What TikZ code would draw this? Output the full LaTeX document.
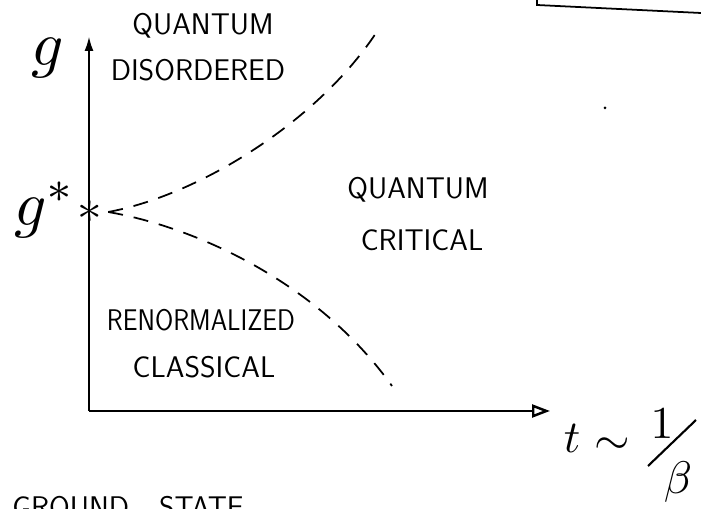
\documentclass[tikz,border=0pt]{standalone}
\usepackage{amsmath}
\usepackage{tikz}
\usetikzlibrary{arrows.meta}
\begin{document}
\begin{tikzpicture}[x=0.02cm,y=-0.02cm,
  axis/.style={line width=1.4pt},
  phase/.style={dashed,line width=1pt,dash pattern=on 0.3cm off 0.22cm},
  region/.style={font=\sffamily\fontsize{17}{20}\selectfont,inner sep=0pt},
  big/.style={scale=2.6,inner sep=0pt}]
\useasboundingbox (0,0) rectangle (701,509);
\clip (0,0) rectangle (701,509);
\coordinate (o) at (89,411);
\coordinate (gtop) at (89,36);
\coordinate (tend) at (550,411);
\draw[axis,-{Latex[length=3mm,width=1.8mm]}] (o) -- (gtop);
\draw[axis,-{Triangle[open,length=3.6mm,width=2.6mm]}] (o) -- (tend);
\node[inner sep=1pt,scale=2.8] (crit) at (90,212) {$\ast$};
\coordinate (up) at (378,30);
\coordinate (down) at (392,386);
\draw[phase] (crit.east) .. controls (200,195) and (320,120) .. (up);
\draw[phase] (crit.east) .. controls (200,228) and (320,285) .. (down);
\node[scale=3.6] (g) at (48,58) {$g$};
\node[scale=3.6] (gs) at (45,210) {$g^{*}$};
\node[region] (qd1) at (203,26) {QUANTUM};
\node[region] (qd2) at (198,70) {DISORDERED};
\node[region] (qc1) at (418,190) {QUANTUM};
\node[region] (qc2) at (422,240) {CRITICAL};
\node[region,xscale=0.88] (rc1) at (201,320) {RENORMALIZED};
\node[region] (rc2) at (204,367) {CLASSICAL};
\node[big] (tl) at (572,438) {$t$};
\node[big] (sim) at (612,446) {$\sim$};
\node[big] (one) at (662,424) {$1$};
\node[big] (beta) at (678,482) {$\beta$};
\draw[line width=1.2pt] (648,466) -- (696,420);
\node[region,anchor=north west] (gstate) at (12,496) {GROUND\quad STATE};
\draw[line width=1pt] (537,-2) -- (537,5) -- (701,13);
\fill (605,108) circle (1.5);
\end{tikzpicture}
\end{document}
